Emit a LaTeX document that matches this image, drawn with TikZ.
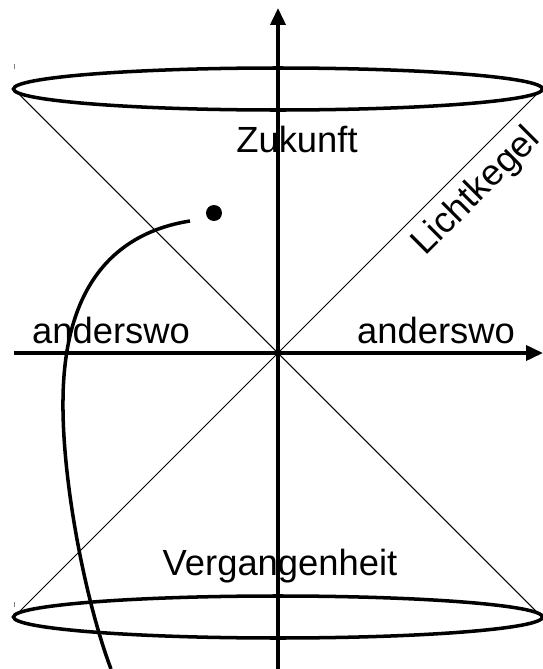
\documentclass[tikz,border=0pt]{standalone}
\usepackage{fontspec}
\setmainfont{Liberation Sans}
\usetikzlibrary{arrows.meta}

\begin{document}
\begin{tikzpicture}[
      axis/.style={-{Triangle[length=9.6pt,width=8.5pt]},line width=2pt},
      rim/.style={line width=2pt},
      cone/.style={line width=0.6pt},
      worldline/.style={line width=2pt},
      event/.style={circle,fill=black,inner sep=0pt,minimum size=0.32cm},
      region/.style={anchor=base,font=\fontsize{20.7}{25}\selectfont}]

    \useasboundingbox (-5.56,-6.32) rectangle (5.30,7.06);

    % ---- light cone: two lines through the origin ------------------------
    \coordinate (o) at (0,0);
    \draw[cone] (-5.28,5.28) -- (o) -- (5.28,-5.28);
    \draw[cone] (-5.28,-5.28) -- (o) -- (5.28,5.28);

    % ---- rims of the cone (future / past) --------------------------------
    \draw[rim] (0,5.28) ellipse (5.29 and 0.42);
    \draw[rim] (0,-5.28) ellipse (5.29 and 0.42);
    \draw[line width=0.3pt,gray] (-5.28,5.78) -- (-5.28,5.68);
    \draw[line width=0.3pt,gray] (-5.28,-4.98) -- (-5.28,-5.08);

    % ---- axes -------------------------------------------------------------
    \draw[axis] (0,-6.32) -- (0,6.90);
    \draw[axis] (-5.28,0) -- (5.30,0);

    % ---- labels -----------------------------------------------------------
    \node[region] (future) at (0.38,4.02) {Zukunft};
    \node[region] (past) at (0.04,-4.44) {Vergangenheit};
    \node[region] (elsel) at (-3.34,0.20) {anderswo};
    \node[region] (elser) at (3.16,0.20) {anderswo};
    \node[region,rotate=45] (lc) at (4.11,3.08) {Lichtkegel};

    % ---- event and world line ---------------------------------------------
    \node[event] (ev) at (-1.28,2.80) {};
    \coordinate (wl) at (-1.76,2.64);
    \coordinate (wlend) at (-3.34,-6.32);
    \draw[worldline] (wl) .. controls (-3.16,2.42) and (-4.28,1.46) .. (-4.30,-0.94)
          .. controls (-4.32,-2.54) and (-3.86,-4.94) .. (wlend);
  \end{tikzpicture}
\end{document}
